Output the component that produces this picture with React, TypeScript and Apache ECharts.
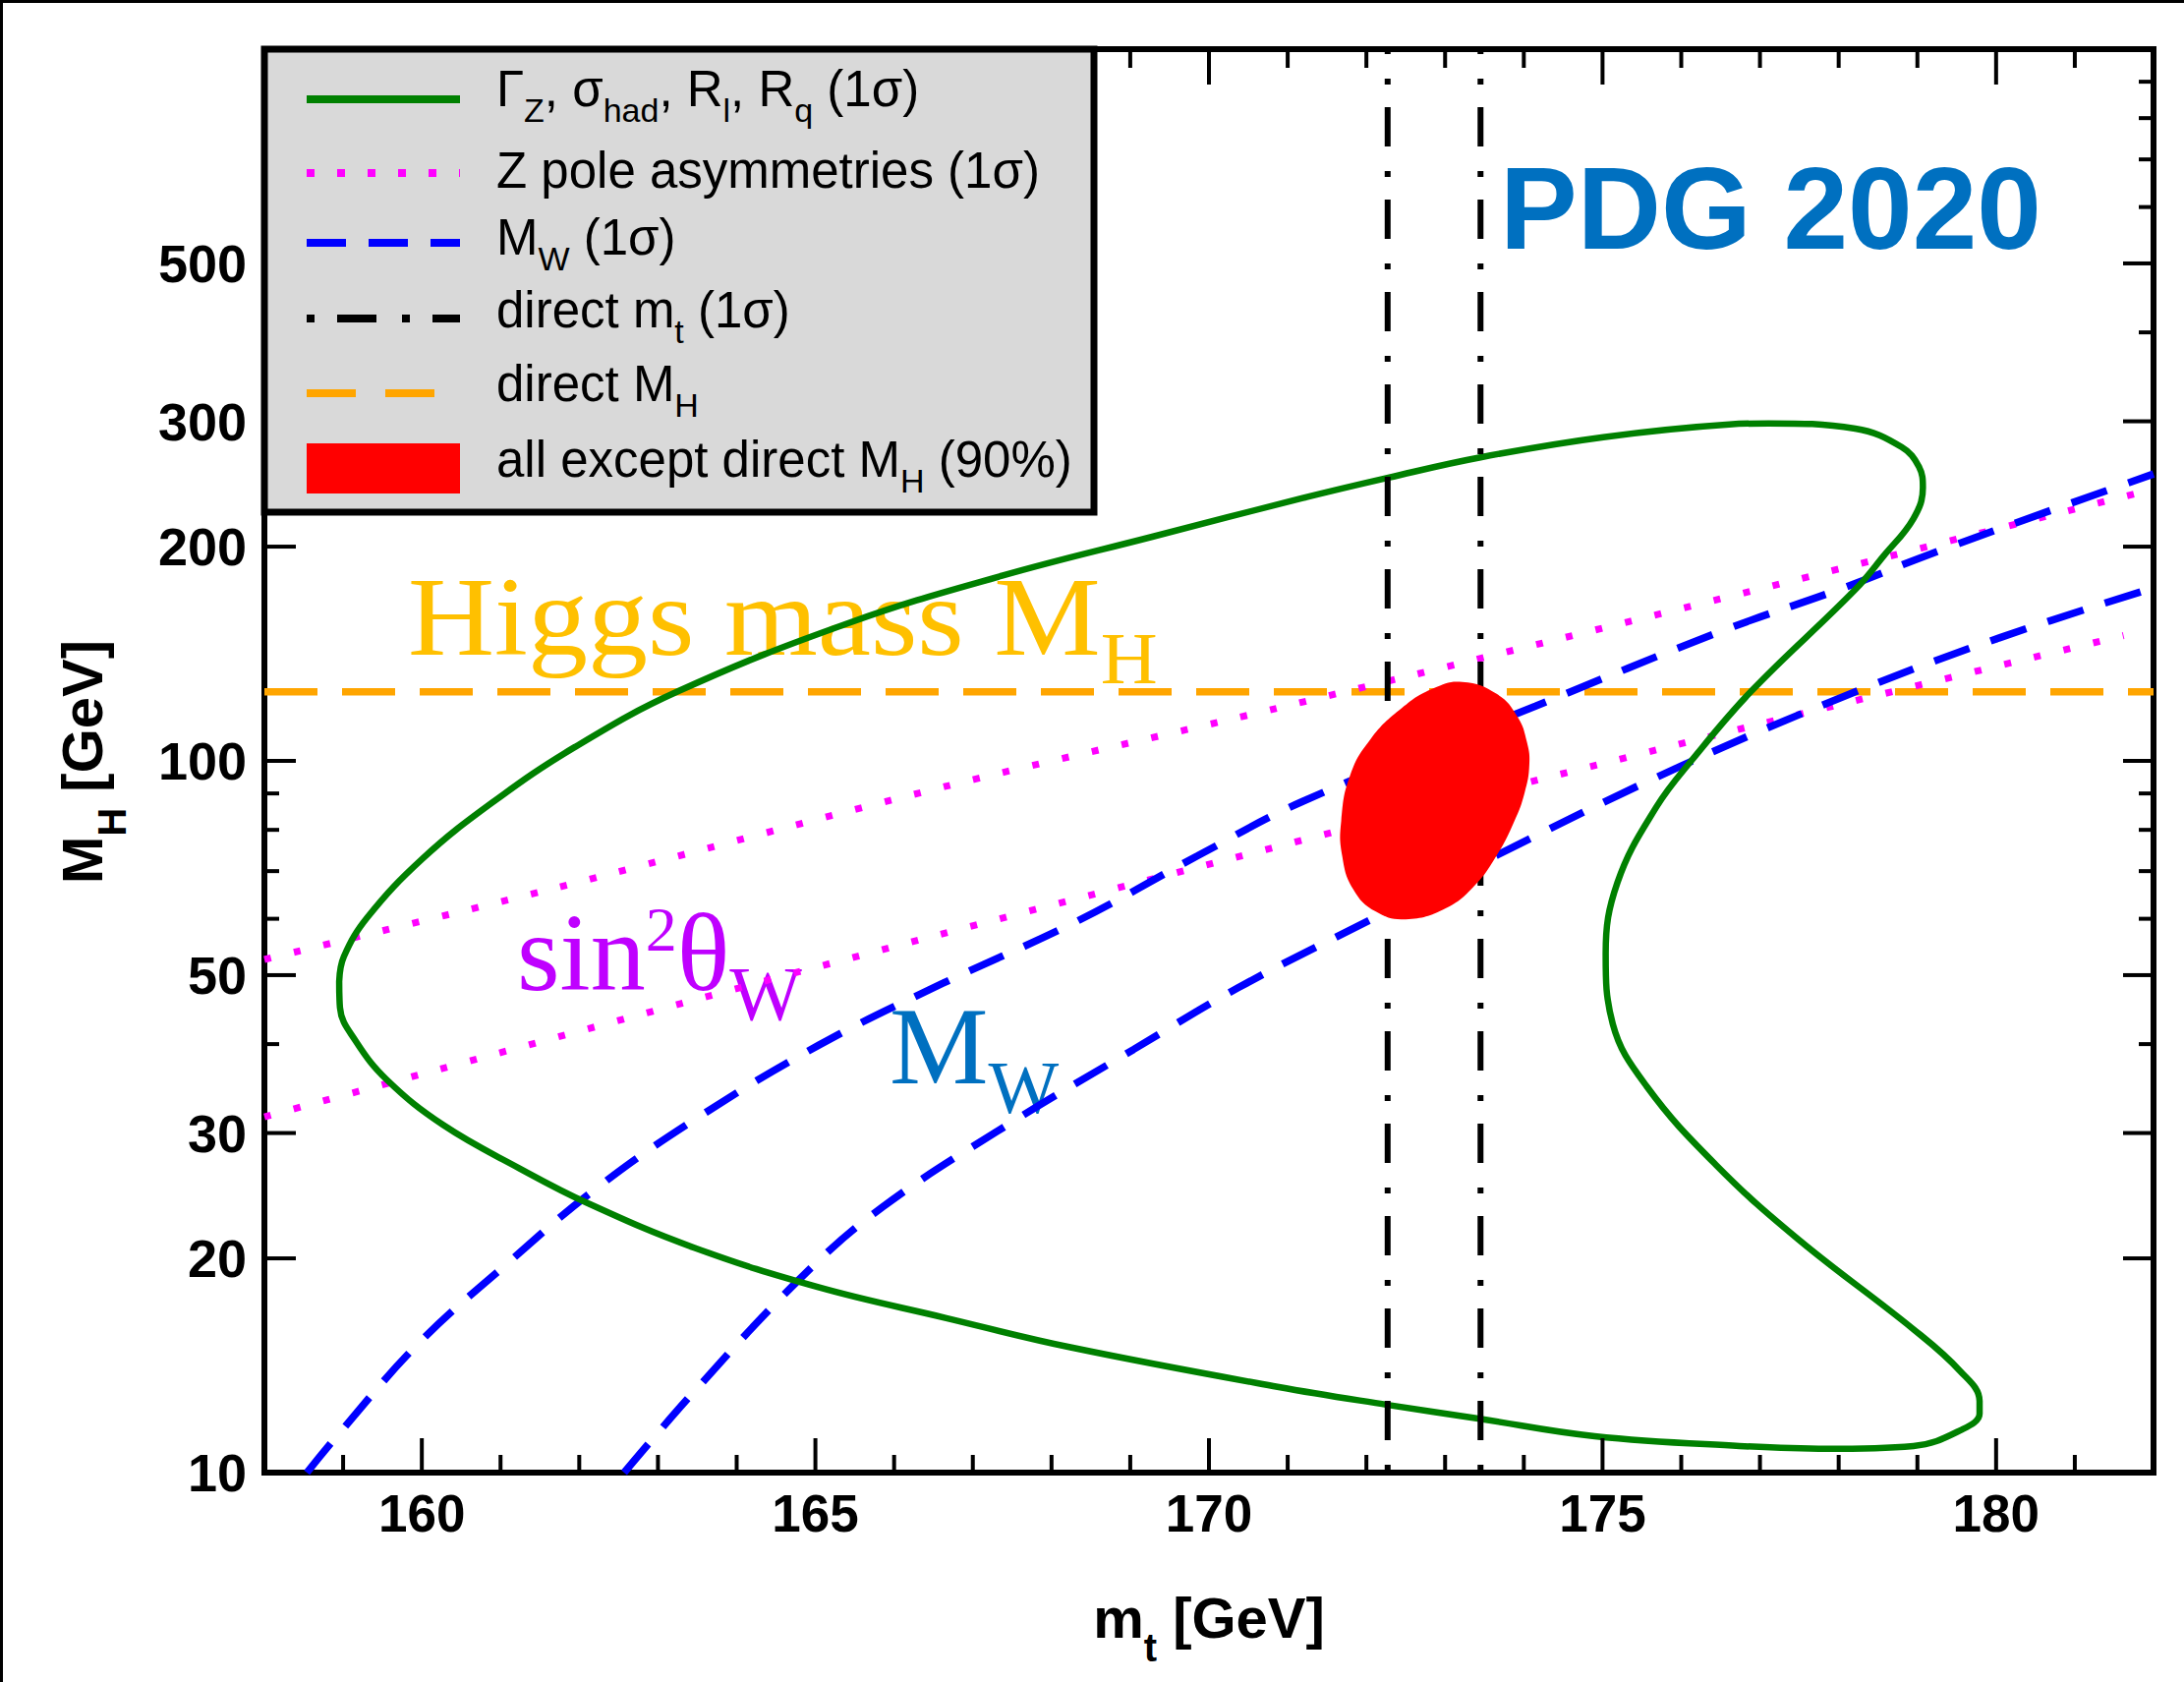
import React, { useEffect, useRef } from 'react';
import * as echarts from 'echarts';

// ---------------- axes ----------------
const mtRange = [158, 182];
const mhRange = [10, 1000];
const xMajorTicks = [160, 165, 170, 175, 180];
const xMinorTicks = [159, 161, 162, 163, 164, 166, 167, 168, 169, 171, 172, 173, 174, 176, 177, 178, 179, 181];
const yMajorTicks = [20, 30, 50, 100, 200, 300, 500];
const yMinorTicks = [40, 60, 70, 80, 90, 400, 600, 700, 800, 900];
const yTickValues = [10, 20, 30, 50, 100, 200, 300, 500];
const yTickLabels = ['10', '20', '30', '50', '100', '200', '300', '500'];

// ---------------- measurements (m_t [GeV], M_H [GeV]) ----------------
const directMH = 125;
const directMtLow = 172.27;
const directMtHigh = 173.45;

// Gamma_Z, sigma_had, R_l, R_q (1 sigma) closed contour
const zLineshapeContour: [number, number][] = [
  [158.95, 49], [159.01, 53.1], [159.31, 60.3], [160.01, 72.9], [160.89, 87.3], [161.94, 104.5],
  [163.26, 125.3], [165.45, 156.6], [167.37, 182], [169.28, 206.5], [171.19, 234], [172.28, 250],
  [173.45, 267], [175.01, 285], [176.61, 297], [177.11, 298], [178.21, 293], [178.8, 276], [179.02, 259],
  [179.07, 242], [178.95, 219], [178.57, 194], [178.21, 174], [176.89, 125.3], [176.15, 100.7],
  [175.68, 86], [175.19, 67.5], [175.04, 53.6], [175.13, 42.7], [175.56, 34.9], [176.45, 27.0],
  [177.48, 21.3], [178.95, 15.9], [179.54, 13.9], [179.79, 12.6], [179.79, 12.1], [179.57, 11.5],
  [178.95, 10.9], [177.85, 10.8], [176.74, 10.9], [174.9, 11.25], [173.44, 11.9], [172.27, 12.45],
  [170.87, 13.2], [168.24, 15.0], [166.65, 16.5], [165.05, 18.2], [163.46, 20.7], [162.11, 23.9],
  [161.23, 26.8], [160.27, 30.8], [159.56, 35.6], [159.16, 40.4], [158.96, 45], [158.95, 49]
];

// Z pole asymmetries (1 sigma) band edges
const zPoleAsymUpper: [number, number][] = [[158, 52.6], [161.63, 66], [166.64, 92], [170.87, 118.6], [176.96, 174], [182, 241]];
const zPoleAsymLower: [number, number][] = [[158, 31.6], [164.81, 50.6], [170.87, 75.8], [176.61, 109.9], [181.62, 150]];

// M_W (1 sigma) band edges
const mwUpper: [number, number][] = [
  [158.54, 10], [158.92, 11.25], [159.96, 15.2], [161.07, 19.6], [162.18, 24.9], [163.46, 31.3],
  [165.05, 39.9], [166.62, 48.7], [168.32, 59.5], [169.85, 73.5], [171.19, 87.7], [174.15, 119.4],
  [176.5, 152], [178.06, 175], [179.31, 198], [182, 253]
];
const mwLower: [number, number][] = [
  [162.57, 10], [163.46, 13.0], [164.82, 18.8], [165.85, 23.6], [167.44, 30.8], [169.04, 39.3],
  [170.37, 48.0], [172.19, 60.9], [173.96, 76.6], [176.02, 98.6], [178.21, 125], [180.05, 149], [182, 175]
];

// all except direct M_H (90%) region boundary
const allExceptMH90: [number, number][] = [
  [173.22, 129.1], [173.66, 124.1], [173.92, 115.3], [174.04, 106.2], [174.07, 98.8], [174.01, 90.2],
  [173.88, 82.3], [173.66, 73.8], [173.37, 66.7], [173.0, 62.0], [172.5, 59.9], [172.12, 61.4],
  [171.83, 66.1], [171.69, 73.8], [171.68, 82.3], [171.79, 95.2], [172.05, 107.2], [172.45, 118.6],
  [172.85, 126.4]
];

// ---------------- styles ----------------
const SANS = '"Liberation Sans", Arial, Helvetica, sans-serif';
const SERIF = '"Liberation Serif", "Times New Roman", serif';

type Part = [string, string];
const rich = (parts: Part[]) => parts.map(([s, k]) => `{${k}|${s}}`).join('');

function richStyles(
  family: string, weight: string, color: string,
  main: number, sub: number, subPad: number, sup?: number, supPad?: number
) {
  const r: any = {
    n: { fontSize: main, fontFamily: family, fontWeight: weight, fill: color, height: main, verticalAlign: 'top' },
    s: { fontSize: sub, fontFamily: family, fontWeight: weight, fill: color, height: sub, verticalAlign: 'top', padding: [subPad, 0, 0, 0] },
  };
  if (sup) {
    r.p = { fontSize: sup, fontFamily: family, fontWeight: weight, fill: color, height: sup, verticalAlign: 'top', padding: [supPad || 0, 0, 0, 0] };
  }
  return r;
}

function richText(x: number, y: number, parts: Part[], styles: any, extra: any = {}) {
  const { align, ...rest } = extra;
  return {
    type: 'text',
    x, y,
    silent: true,
    ...rest,
    style: { text: rich(parts), rich: styles, align: align || 'left', verticalAlign: 'top' },
  };
}

// legend rows
const legendX1 = 312, legendX2 = 468, legendTextX = 505;
const legendRowsY = [101, 176, 247, 324, 400];
const legendBaselines = [108, 191, 259, 333, 408, 485];
const LEG_F = 51, LEG_FS = 34, LEG_T = 30;
const legOff = LEG_F / 2 + 0.3465 * LEG_F;
const legStyles = richStyles(SANS, 'normal', '#000', LEG_F, LEG_FS, LEG_T);
const legendLabels: Part[][] = [
  [['Γ', 'n'], ['Z', 's'], [', σ', 'n'], ['had', 's'], [', R', 'n'], ['l', 's'], [', R', 'n'], ['q', 's'], [' (1σ)', 'n']],
  [['Z pole asymmetries (1σ)', 'n']],
  [['M', 'n'], ['W', 's'], [' (1σ)', 'n']],
  [['direct m', 'n'], ['t', 's'], [' (1σ)', 'n']],
  [['direct M', 'n'], ['H', 's']],
  [['all except direct M', 'n'], ['H', 's'], [' (90%)', 'n']],
];

function buildGraphic() {
  const g: any[] = [];
  // page edge lines
  g.push({ type: 'line', silent: true, z: 1, shape: { x1: 0, y1: 1.5, x2: 2222, y2: 1.5 }, style: { stroke: '#000', lineWidth: 3 } });
  g.push({ type: 'line', silent: true, z: 1, shape: { x1: 1.5, y1: 0, x2: 1.5, y2: 1711 }, style: { stroke: '#000', lineWidth: 3 } });

  // annotations
  g.push({
    type: 'text', silent: true, z: 1, x: 1526, y: 212,
    style: { text: 'PDG 2020', fill: '#0070C0', fontSize: 118, fontWeight: 'bold', fontFamily: SANS, align: 'left', verticalAlign: 'middle' },
  });
  g.push(richText(415, 570.5, [['Higgs mass M', 'n'], ['H', 's']], richStyles(SERIF, 'normal', '#FFC000', 114, 75, 62), { z: 1, scaleX: 1.07 }));
  g.push(richText(526, 913, [['sin', 'n'], ['2', 'p'], ['θ', 'n'], ['W', 's']], richStyles(SERIF, 'normal', '#BF00FF', 112, 78, 58, 64, 0), { z: 1 }));
  g.push(richText(905, 1007, [['M', 'n'], ['W', 's']], richStyles(SERIF, 'normal', '#0070C0', 113, 76, 61), { z: 1 }));

  // axis titles
  const titleStyles = richStyles(SANS, 'bold', '#000', 58, 40, 40);
  g.push(richText(1230, 1616, [['m', 'n'], ['t', 's'], [' [GeV]', 'n']], titleStyles, { z: 1, align: 'center' }));
  g.push(richText(54, 775, [['M', 'n'], ['H', 's'], [' [GeV]', 'n']], titleStyles, { z: 1, align: 'center', rotation: Math.PI / 2 }));

  // legend box
  g.push({ type: 'rect', silent: true, z: 100, shape: { x: 269, y: 50, width: 844, height: 471 }, style: { fill: '#d9d9d9', stroke: '#000', lineWidth: 7 } });
  const sampleStyles = [
    { stroke: '#008000', lineWidth: 8 },
    { stroke: '#FF00FF', lineWidth: 8, lineDash: [8, 23] },
    { stroke: '#0000FF', lineWidth: 8, lineDash: [40, 23] },
    { stroke: '#000000', lineWidth: 8, lineDash: [8, 23, 40, 26] },
    { stroke: '#FFA500', lineWidth: 8, lineDash: [50, 30] },
  ];
  sampleStyles.forEach((st, i) => {
    g.push({ type: 'line', silent: true, z: 101, shape: { x1: legendX1, y1: legendRowsY[i], x2: legendX2, y2: legendRowsY[i] }, style: st });
  });
  g.push({ type: 'rect', silent: true, z: 101, shape: { x: legendX1, y: 451, width: legendX2 - legendX1, height: 51 }, style: { fill: '#FF0000' } });
  legendLabels.forEach((parts, i) => {
    g.push(richText(legendTextX, legendBaselines[i] - legOff, parts, legStyles, { z: 101 }));
  });
  return g;
}

function lineSeries(name: string, data: [number, number][], color: string, width: number, type: any, z: number, smooth: number, dashOffset = 0) {
  return {
    type: 'line', name, data, z, smooth, silent: true,
    symbol: 'none', showSymbol: false, clip: true,
    lineStyle: { color, width, type, dashOffset, cap: 'butt' },
    emphasis: { disabled: true },
  };
}

function buildOption(): any {
  const xTickData = xMajorTicks.map((v) => [v, mhRange[0], 1]).concat(xMinorTicks.map((v) => [v, mhRange[0], 0]));
  const yTickData = yMajorTicks.map((v) => [mtRange[0], v, 1]).concat(yMinorTicks.map((v) => [mtRange[0], v, 0]));
  return {
    animation: false,
    backgroundColor: '#ffffff',
    grid: { left: 269, top: 50, right: 31, bottom: 213, show: true, borderColor: '#000', borderWidth: 6, backgroundColor: 'transparent' },
    xAxis: {
      type: 'value', min: mtRange[0], max: mtRange[1], interval: 1,
      axisLine: { show: false }, axisTick: { show: false }, splitLine: { show: false },
      axisLabel: {
        formatter: (v: number) => (xMajorTicks.indexOf(v) >= 0 ? String(v) : ''),
        fontSize: 53, fontWeight: 'bold', fontFamily: SANS, color: '#000', margin: 15,
      },
    },
    yAxis: {
      type: 'log', logBase: 10, min: mhRange[0], max: mhRange[1],
      axisLine: { show: false }, axisTick: { show: false }, splitLine: { show: false }, axisLabel: { show: false },
    },
    graphic: buildGraphic(),
    series: [
      lineSeries('direct M_H', [[mtRange[0], directMH], [mtRange[1], directMH]], '#FFA500', 7.5, [54, 25], 2, 0),
      lineSeries('Z pole asymmetries upper', zPoleAsymUpper, '#FF00FF', 7, [7, 24], 3, 0.3),
      lineSeries('Z pole asymmetries lower', zPoleAsymLower, '#FF00FF', 7, [7, 24], 3, 0.3),
      lineSeries('M_W upper', mwUpper, '#0000FF', 7.5, [38, 23], 4, 0.4),
      lineSeries('M_W lower', mwLower, '#0000FF', 7.5, [38, 23], 4, 0.4),
      lineSeries('direct m_t low', [[directMtLow, mhRange[1]], [directMtLow, mhRange[0]]], '#000', 6, [40, 25, 6, 23], 6, 0, 35),
      lineSeries('direct m_t high', [[directMtHigh, mhRange[1]], [directMtHigh, mhRange[0]]], '#000', 6, [40, 25, 6, 23], 6, 0, 35),
      lineSeries('Gamma_Z, sigma_had, R_l, R_q', zLineshapeContour, '#008000', 6.5, 'solid', 5, 0.4),
      {
        type: 'custom', name: 'all except direct M_H (90%)', coordinateSystem: 'cartesian2d', silent: true, z: 7,
        data: allExceptMH90, encode: { x: 0, y: 1 },
        renderItem: (params: any, api: any) => {
          if (params.dataIndex !== 0) return null;
          const pts = allExceptMH90.map((p) => api.coord(p));
          return { type: 'polygon', shape: { points: pts, smooth: 0.45 }, style: { fill: '#FF0000' } };
        },
      },
      {
        type: 'custom', name: 'xTicks', coordinateSystem: 'cartesian2d', silent: true, z: 8,
        data: xTickData, encode: { x: 0, y: 1 },
        renderItem: (params: any, api: any) => {
          const v = api.value(0);
          const major = api.value(2) === 1;
          const pb = api.coord([v, mhRange[0]]);
          const pt = api.coord([v, mhRange[1]]);
          const lb = major ? 35 : 18;
          const lt = major ? 36 : 19;
          return {
            type: 'group', children: [
              { type: 'line', shape: { x1: pb[0], y1: pb[1], x2: pb[0], y2: pb[1] - lb }, style: { stroke: '#000', lineWidth: 4 } },
              { type: 'line', shape: { x1: pt[0], y1: pt[1], x2: pt[0], y2: pt[1] + lt }, style: { stroke: '#000', lineWidth: 4 } },
            ],
          };
        },
      },
      {
        type: 'custom', name: 'yTicks', coordinateSystem: 'cartesian2d', silent: true, z: 8,
        data: yTickData, encode: { x: 0, y: 1 },
        renderItem: (params: any, api: any) => {
          const v = api.value(1);
          const major = api.value(2) === 1;
          const pl = api.coord([mtRange[0], v]);
          const pr = api.coord([mtRange[1], v]);
          const ll = major ? 32 : 15;
          const lr = major ? 31 : 15;
          return {
            type: 'group', children: [
              { type: 'line', shape: { x1: pl[0], y1: pl[1], x2: pl[0] + ll, y2: pl[1] }, style: { stroke: '#000', lineWidth: 4 } },
              { type: 'line', shape: { x1: pr[0], y1: pr[1], x2: pr[0] - lr, y2: pr[1] }, style: { stroke: '#000', lineWidth: 4 } },
            ],
          };
        },
      },
      {
        type: 'custom', name: 'yLabels', coordinateSystem: 'cartesian2d', silent: true, z: 8,
        data: yTickValues.map((v, i) => [mtRange[0], v, i]), encode: { x: 0, y: 1 },
        renderItem: (params: any, api: any) => {
          const p = api.coord([api.value(0), api.value(1)]);
          return {
            type: 'text', x: p[0] - 18, y: p[1],
            style: { text: yTickLabels[api.value(2)], fill: '#000', fontSize: 54, fontWeight: 'bold', fontFamily: SANS, align: 'right', verticalAlign: 'middle' },
          };
        },
      },
    ],
  };
}

export default function App() {
  const ref = useRef<HTMLDivElement>(null);
  useEffect(() => {
    if (!ref.current) return;
    const chart = echarts.init(ref.current, null, { renderer: 'svg' });
    chart.setOption(buildOption());
    return () => chart.dispose();
  }, []);
  return (
    <div
      ref={ref}
      style={{ position: 'fixed', left: 0, top: 0, width: 2222, height: 1711, background: '#fff' }}
    />
  );
}
